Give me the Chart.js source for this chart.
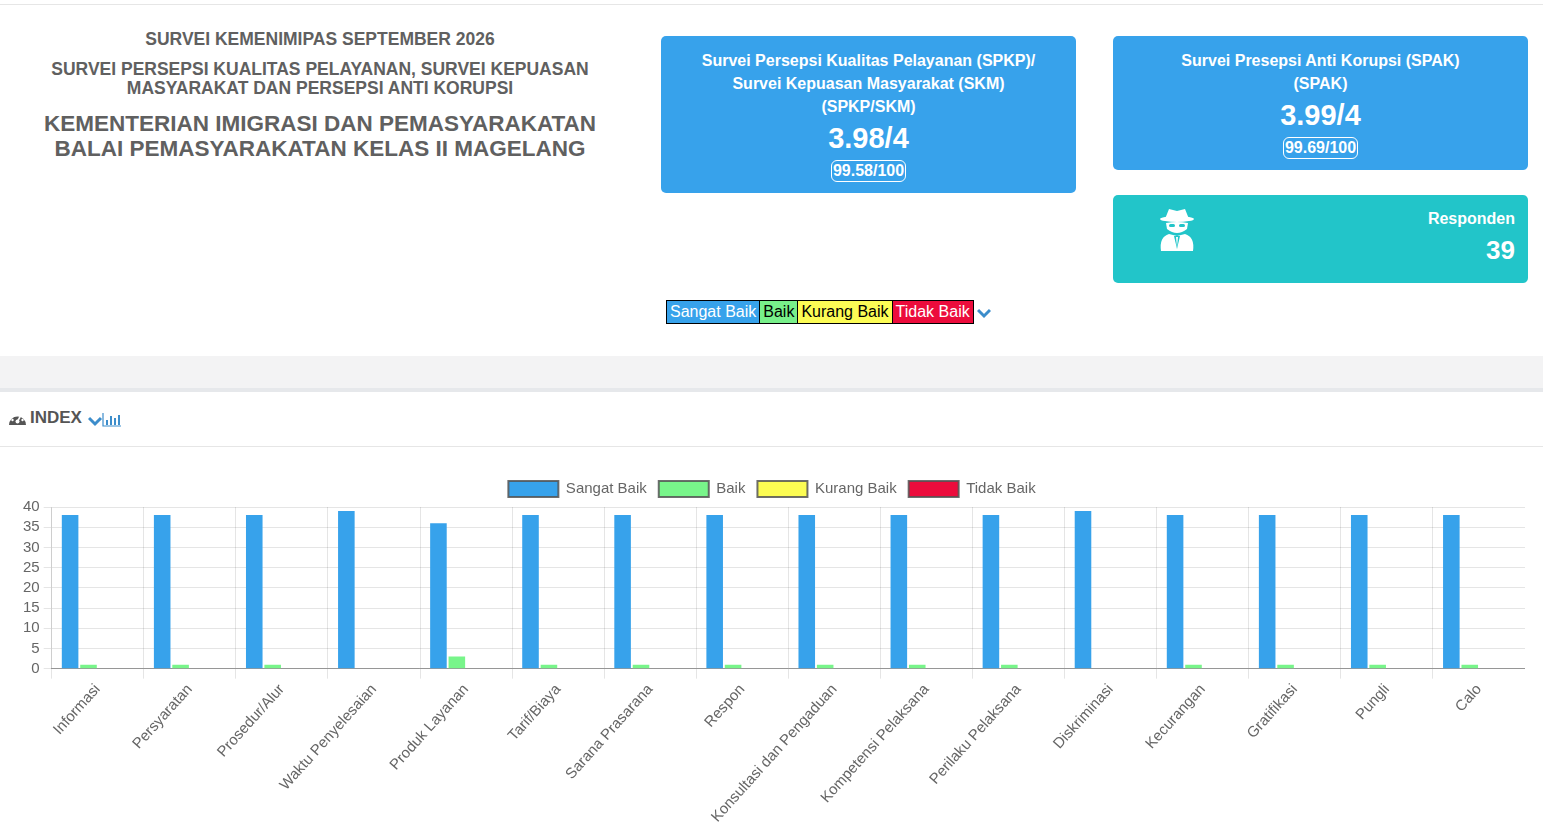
<!DOCTYPE html>
<html>
<head>
<meta charset="utf-8">
<script src="https://cdn.jsdelivr.net/npm/chart.js@4.4.1/dist/chart.umd.min.js"></script>
<style>
  html,body{margin:0;padding:0;background:#fff;width:1543px;height:835px;overflow:hidden;font-family:"Liberation Sans",Arial,Helvetica,sans-serif;}
  .abs{position:absolute;}
  .topline{left:0;top:4px;width:1543px;height:1px;background:#e6e6e6;}
  .hdr{left:0;width:640px;text-align:center;color:#606060;font-weight:bold;}
  .card{border-radius:5px;color:#fff;font-weight:bold;text-align:center;}
  .blue{background:#37a2eb;}
  .teal{background:#22c5c9;}
  .card .t{font-size:16px;line-height:23px;}
  .card .v{font-size:29px;line-height:34px;}
  .pill{display:inline-block;border:1px solid #fff;border-radius:6px;font-size:16px;line-height:20px;padding:0 1px;}
  .leg{top:300px;left:667px;height:24px;display:flex;font-size:16px;line-height:22px;}
  .leg span{border:1px solid #000;padding:0 3px;margin-left:-1px;}
  .band{left:0;top:356px;width:1543px;height:32px;background:#f3f3f4;}
  .band2{left:0;top:388px;width:1543px;height:4px;background:#e6e8eb;}
  .idx{left:8px;top:408px;font-size:17px;font-weight:bold;color:#555;display:flex;align-items:center;}
  .line2{left:0;top:446px;width:1543px;height:1px;background:#e6e6e6;}
  #wrap{position:absolute;left:19px;top:469px;width:1506px;height:359px;}
</style>
</head>
<body>
<div class="abs topline"></div>

<div class="abs hdr" style="top:28px;font-size:17.5px;line-height:22px;">SURVEI KEMENIMIPAS SEPTEMBER 2026</div>
<div class="abs hdr" style="top:60px;font-size:17.5px;line-height:19px;">SURVEI PERSEPSI KUALITAS PELAYANAN, SURVEI KEPUASAN<br>MASYARAKAT DAN PERSEPSI ANTI KORUPSI</div>
<div class="abs hdr" style="top:111px;font-size:22.5px;line-height:25px;">KEMENTERIAN IMIGRASI DAN PEMASYARAKATAN<br>BALAI PEMASYARAKATAN KELAS II MAGELANG</div>

<div class="abs card blue" style="left:661px;top:36px;width:415px;height:157px;">
  <div class="t" style="margin-top:13px;">Survei Persepsi Kualitas Pelayanan (SPKP)/<br>Survei Kepuasan Masyarakat (SKM)<br>(SPKP/SKM)</div>
  <div class="v" style="margin-top:3px;">3.98/4</div>
  <div style="margin-top:5px;"><span class="pill">99.58/100</span></div>
</div>

<div class="abs card blue" style="left:1113px;top:36px;width:415px;height:134px;">
  <div class="t" style="margin-top:13px;">Survei Presepsi Anti Korupsi (SPAK)<br>(SPAK)</div>
  <div class="v" style="margin-top:3px;">3.99/4</div>
  <div style="margin-top:5px;"><span class="pill">99.69/100</span></div>
</div>

<div class="abs card teal" style="left:1113px;top:195px;width:415px;height:88px;">
  <svg class="abs" style="left:44px;top:12px;" width="40" height="46" viewBox="0 0 40 46">
    <path d="M8 12 L12 2 L20 4 L28 2 L32 12 Z" fill="#fff"/>
    <ellipse cx="20" cy="12" rx="17" ry="3" fill="#fff"/>
    <path d="M9 16 Q20 14 31 16 L30 22 Q20 30 10 22 Z" fill="#fff"/>
    <rect x="12" y="17" width="6" height="3" rx="1.5" fill="#22c5c9"/>
    <rect x="22" y="17" width="6" height="3" rx="1.5" fill="#22c5c9"/>
    <path d="M4 44 Q2 30 12 27 L20 29 L28 27 Q38 30 36 44 Z" fill="#fff"/>
    <path d="M17 29 L20 42 L23 29 Z" fill="#22c5c9"/>
    <path d="M19 30 L20 40 L21 30 Z" fill="#fff"/>
  </svg>
  <div class="abs" style="right:13px;top:13px;font-size:16px;line-height:22px;">Responden</div>
  <div class="abs" style="right:13px;top:40px;font-size:26px;line-height:30px;">39</div>
</div>

<div class="abs leg">
  <span style="background:#37a2eb;color:#fff;">Sangat Baik</span>
  <span style="background:#78f08a;color:#000;">Baik</span>
  <span style="background:#fcfc55;color:#000;">Kurang Baik</span>
  <span style="background:#ec0c3c;color:#fff;">Tidak Baik</span>
  <svg style="margin-left:3px;margin-top:7px;" width="14" height="12" viewBox="0 0 14 12"><path d="M1 3 L7 9 L13 3" stroke="#3c8dcb" stroke-width="3" fill="none"/></svg>
</div>

<div class="abs band"></div>
<div class="abs band2"></div>

<div class="abs idx">
  <svg width="19" height="17" viewBox="0 0 19 17" style="margin-right:3px;">
    <path d="M1 15 A8.5 8.5 0 1 1 18 15 Z" fill="#555"/>
    <circle cx="9.5" cy="11.5" r="2" fill="#fff"/>
    <path d="M9.5 11.5 L13 5" stroke="#fff" stroke-width="1.6"/>
    <circle cx="4.5" cy="10" r="1.2" fill="#fff"/><circle cx="6" cy="5.8" r="1.2" fill="#fff"/><circle cx="9.5" cy="4" r="1.2" fill="#fff"/><circle cx="14.5" cy="10" r="1.2" fill="#fff"/>
  </svg>
  <span>INDEX</span>
  <svg width="34" height="16" viewBox="0 0 34 16" style="margin-left:6px;margin-top:4px;">
    <path d="M1 6 L7 12 L13 6" stroke="#3c8dcb" stroke-width="3" fill="none"/>
    <path d="M15 1 L15 14 L33 14" stroke="#3c8dcb" stroke-width="1.2" fill="none"/>
    <rect x="18" y="8" width="2" height="5" fill="#3c8dcb"/>
    <rect x="22" y="4" width="2" height="9" fill="#3c8dcb"/>
    <rect x="26" y="6" width="2" height="7" fill="#3c8dcb"/>
    <rect x="30" y="3" width="2" height="10" fill="#3c8dcb"/>
  </svg>
</div>
<div class="abs line2"></div>

<div id="wrap"><canvas id="c"></canvas></div>

<script>
const categories = ["Informasi","Persyaratan","Prosedur/Alur","Waktu Penyelesaian","Produk Layanan","Tarif/Biaya","Sarana Prasarana","Respon","Konsultasi dan Pengaduan","Kompetensi Pelaksana","Perilaku Pelaksana","Diskriminasi","Kecurangan","Gratifikasi","Pungli","Calo"];
const sangatBaik = [38,38,38,39,36,38,38,38,38,38,38,39,38,38,38,38];
const baik       = [1,1,1,0,3,1,1,1,1,1,1,0,1,1,1,1];
const kurangBaik = [0,0,0,0,0,0,0,0,0,0,0,0,0,0,0,0];
const tidakBaik  = [0,0,0,0,0,0,0,0,0,0,0,0,0,0,0,0];
const seriesNames = ["Sangat Baik","Baik","Kurang Baik","Tidak Baik"];
const seriesColors = ["#37a2eb","#78f58a","#fcfc52","#ec0c3c"];
const yTicks = [0,5,10,15,20,25,30,35,40];

const font = {family:'"Liberation Sans", Arial, Helvetica, sans-serif', size:15};
const seriesData = [sangatBaik, baik, kurangBaik, tidakBaik];

new Chart(document.getElementById('c'), {
  type:'bar',
  data:{
    labels:categories,
    datasets: seriesNames.map((n,i)=>({label:n,data:seriesData[i],backgroundColor:seriesColors[i],borderWidth:0}))
  },
  options:{
    responsive:true,
    maintainAspectRatio:false,
    animation:false,
    layout:{padding:0},
    plugins:{
      tooltip:{enabled:false},
      legend:{
        position:'top',
        labels:{
          color:'#666',
          font:font,
          boxWidth:50,
          boxHeight:16,
          padding:12,
          generateLabels(chart){
            const items = Chart.defaults.plugins.legend.labels.generateLabels(chart);
            items.forEach(it=>{it.strokeStyle='rgba(85,85,85,0.85)';it.lineWidth=2;});
            return items;
          }
        }
      }
    },
    scales:{
      x:{
        ticks:{color:'#666',font:font,minRotation:48,maxRotation:48,autoSkip:false,padding:2},
        grid:{color:'rgba(0,0,0,0.1)',tickLength:10},
        border:{color:'rgba(0,0,0,0.35)'}
      },
      y:{
        min:yTicks[0],max:yTicks[yTicks.length-1],
        afterBuildTicks(axis){axis.ticks = yTicks.map(v=>({value:v}));},
        ticks:{color:'#666',font:font,padding:4,autoSkip:false,stepSize:5},
        grid:{color:'rgba(0,0,0,0.1)',tickLength:8},
        border:{color:'rgba(0,0,0,0.1)'}
      }
    }
  }
});
</script>
</body>
</html>
